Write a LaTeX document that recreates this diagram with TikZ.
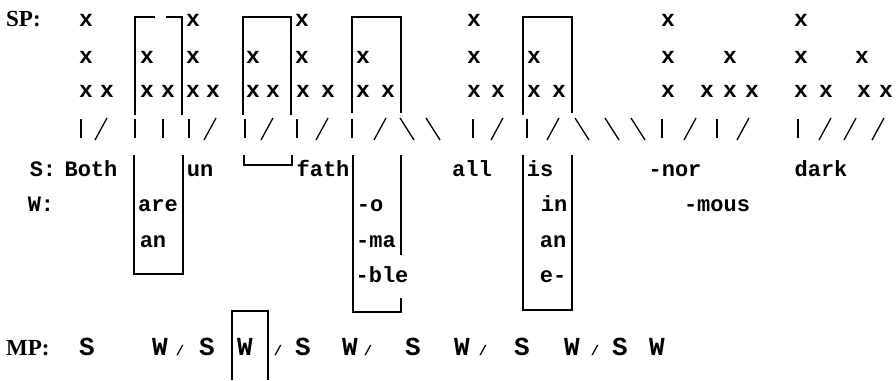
\documentclass[tikz,border=0pt]{standalone}
\usepackage{fontspec}
\setmainfont{Liberation Serif}
\newfontfamily\tw{Liberation Mono}
\begin{document}
\begin{tikzpicture}[x=1pt,y=-1pt,
  tx/.style={font=\tw\bfseries\fontsize{22}{22}\selectfont, inner sep=0pt, anchor=base},
  xm/.style={font=\tw\bfseries\fontsize{23}{23}\selectfont, inner sep=0pt, anchor=base},
  big/.style={font=\tw\bfseries\fontsize{26}{26}\selectfont, inner sep=0pt, anchor=base},
  sm/.style={font=\tw\bfseries\fontsize{14}{14}\selectfont, inner sep=0pt, anchor=base},
  lab/.style={font=\bfseries\fontsize{23}{23}\selectfont, inner sep=0pt, anchor=base west},
  ln/.style={line width=1.4pt},
  tick/.style={line width=1.3pt}]
\useasboundingbox (0,0) rectangle (896,380);
% labels
\node[lab] (sp) at (6,27) {SP:};
\node[lab] (mp) at (6,355) {MP:};
% grid of x marks
\foreach \x [count=\i] in {86,193,302,474,668,801}
  \node[xm] (xa\i) at (\x,27) {x};
\foreach \x [count=\i] in {86,147,193,253,302,363,474,534,668,730,801,862}
  \node[xm] (xb\i) at (\x,63) {x};
\foreach \x [count=\i] in {86,107,147,168,193,213,253,273,303,328,363,388,474,498,534,559,668,707,730,752,801,826,864,886}
  \node[xm] (xc\i) at (\x,97) {x};
% slash row
\foreach \x in {81,135,163,189,245,297,352,473,527,662,717,798}
  \draw[tick] (\x,119) -- (\x,138);
\foreach \x in {101,210,267,322,380,497,553,690,743,825,850,878}
  \draw[tick] (\x-6,140) -- (\x+6,118);
\foreach \x in {407,433,582,612,638}
  \draw[tick] (\x-7,118) -- (\x+7,140);
% upper brackets
\draw[ln] (135,115) -- (135,17) -- (155,17);
\draw[ln] (166,17) -- (182,17) -- (182,115);
\draw[ln] (243,115) -- (243,17) -- (291,17) -- (291,115);
\draw[ln] (352,113) -- (352,17) -- (401,17) -- (401,113);
\draw[ln] (523,115) -- (523,17) -- (572,17) -- (572,113);
% lower boxes
\draw[ln] (134,155) -- (134,274) -- (183,274) -- (183,155);
\draw[ln] (244,155) -- (244,165) -- (292,165) -- (292,155);
\draw[ln] (353,155) -- (353,312) -- (401,312) -- (401,298);
\draw[ln] (401,155) -- (401,255);
\draw[ln] (523,155) -- (523,310) -- (572,310) -- (572,155);
\draw[ln] (232,380) -- (232,311) -- (268,311) -- (268,380);
% S row
\node[tx] (sl) at (43,176) {S:};
\node[tx] (both) at (91,176) {Both};
\node[tx] (un) at (200,176) {un};
\node[tx] (fath) at (323,176) {fath};
\node[tx] (all) at (472,176) {all};
\node[tx] (is) at (540,176) {is};
\node[tx] (nor) at (675,176) {-nor};
\node[tx] (dark) at (821,176) {dark};
% W rows
\node[tx] (wl) at (41,211) {W:};
\node[tx] (are) at (158,211) {are};
\node[tx] (o) at (370,211) {-o};
\node[tx] (in) at (554,211) {in};
\node[tx] (mous) at (717,211) {-mous};
\node[tx] (an1) at (153,247) {an};
\node[tx] (ma) at (376,247) {-ma};
\node[tx] (an2) at (553,247) {an};
\node[tx] (ble) at (382,282) {-ble};
\node[tx] (e) at (553,282) {e-};
% MP row
\foreach \x/\t [count=\i] in {87/S,160/W,207/S,245/W,303/S,350/W,413/S,462/W,522/S,572/W,620/S,657/W}
  \node[big] (m\i) at (\x,355) {\t};
\foreach \x [count=\i] in {180,278,368,483,595}
  \node[sm] (sl\i) at (\x,355) {/};
\end{tikzpicture}
\end{document}
